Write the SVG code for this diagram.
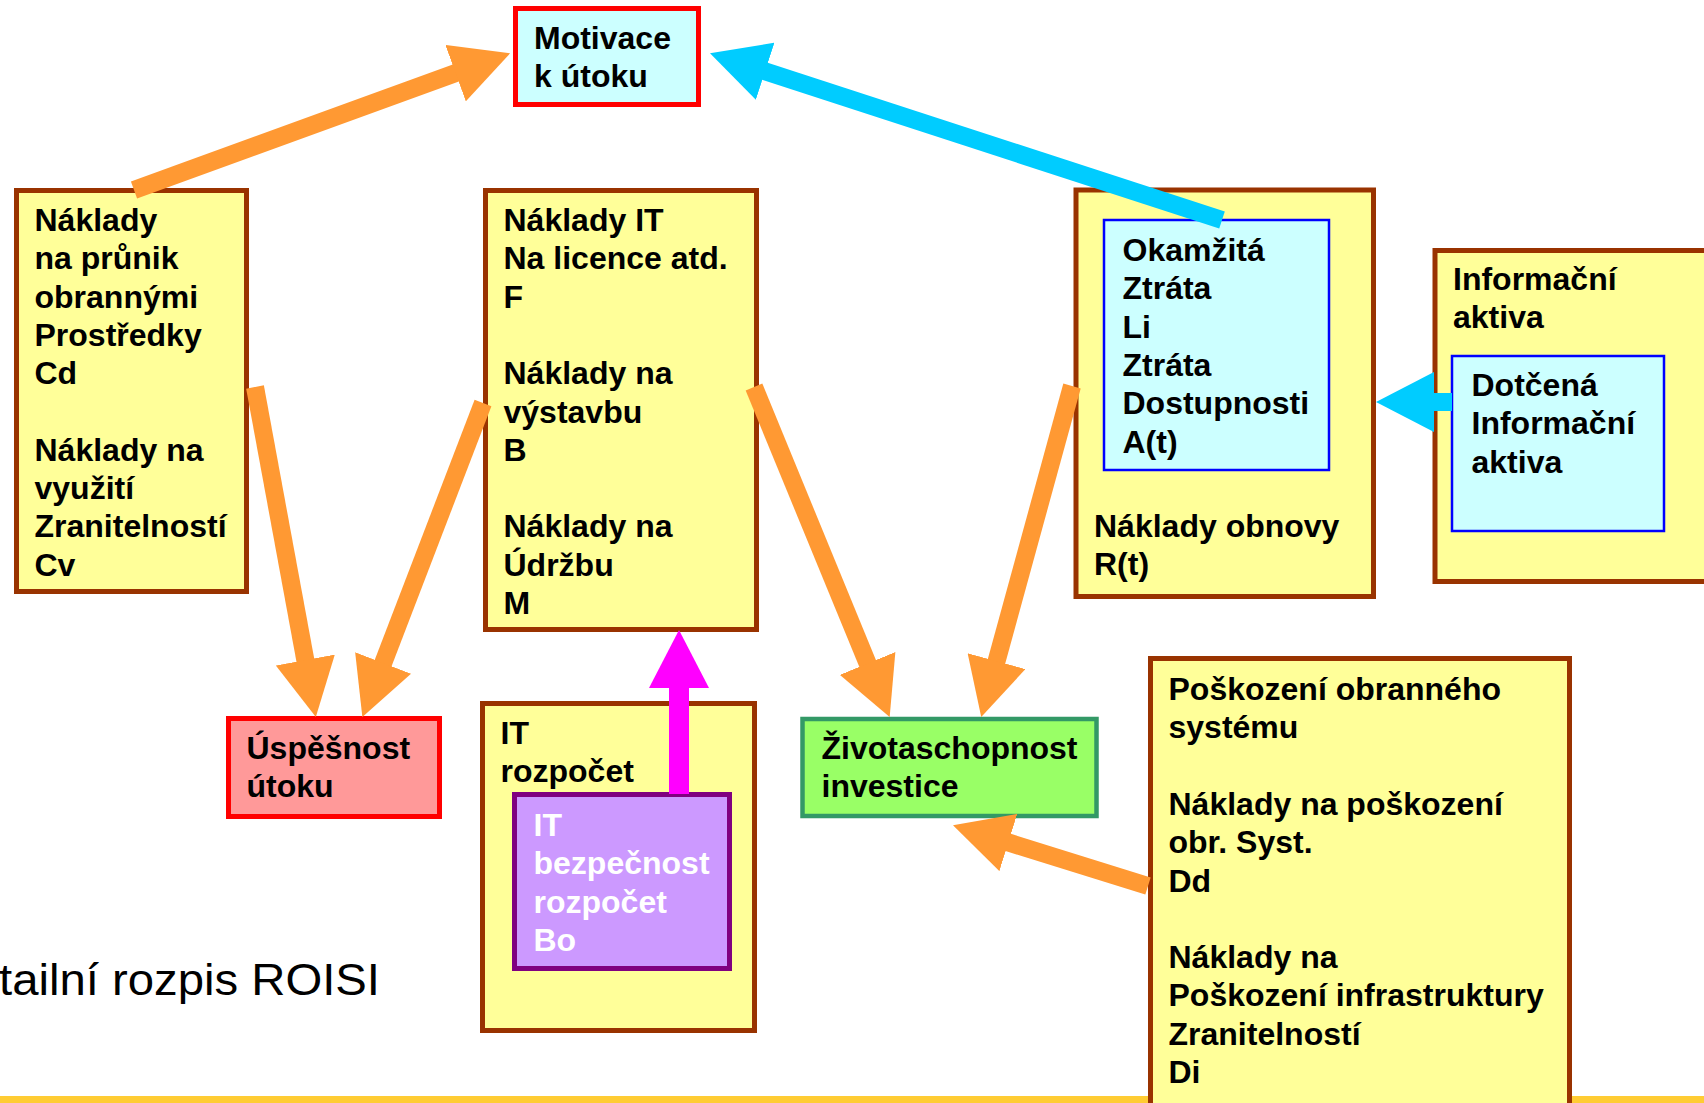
<svg xmlns="http://www.w3.org/2000/svg" width="1704" height="1103" viewBox="0 0 1704 1103">
<defs>
<style>
.t{font-family:"Liberation Sans",Arial,sans-serif;font-weight:bold;font-size:32px;fill:#000}
.w{fill:#fff}
.y{fill:#FFFF99;stroke:#993300;stroke-width:5}
.c{fill:#CCFFFF;stroke:#0000FF;stroke-width:2.5}
.ao{stroke:#FF9933;stroke-width:18;fill:none}
.ac{stroke:#00CCFF;stroke-width:18;fill:none}
.am{stroke:#FF00FF;stroke-width:20;fill:none}
</style>
<marker id="hO" viewBox="0 -30 58 60" markerWidth="58" markerHeight="60" refX="1" refY="0" orient="auto" markerUnits="userSpaceOnUse"><path d="M0,-30 L58,0 L0,30 z" fill="#FF9933"/></marker>
<marker id="hC" viewBox="0 -30 58 60" markerWidth="58" markerHeight="60" refX="1" refY="0" orient="auto" markerUnits="userSpaceOnUse"><path d="M0,-30 L58,0 L0,30 z" fill="#00CCFF"/></marker>
<marker id="hM" viewBox="0 -30 58 60" markerWidth="58" markerHeight="60" refX="1" refY="0" orient="auto" markerUnits="userSpaceOnUse"><path d="M0,-30 L58,0 L0,30 z" fill="#FF00FF"/></marker>
</defs>
<rect x="0" y="0" width="1704" height="1103" fill="#fff"/>
<rect x="0" y="1096" width="1704" height="7" fill="#FFCC33"/>
<text x="-1" y="995" font-family="Liberation Sans,Arial,sans-serif" font-size="45" textLength="381" lengthAdjust="spacingAndGlyphs" fill="#000">tailní rozpis ROISI</text>

<g id="motivace">
<rect x="515.5" y="8.5" width="183" height="96" fill="#CCFFFF" stroke="#FF0000" stroke-width="5"/>
<text class="t"><tspan x="534" y="49">Motivace</tspan><tspan x="534" y="87">k útoku</tspan></text>
</g>

<g id="naklady-prunik">
<rect class="y" x="16.5" y="190.5" width="230" height="401"/>
<text class="t"><tspan x="34.5" y="231">Náklady</tspan><tspan x="34.5" y="269.3">na průnik</tspan><tspan x="34.5" y="307.6">obrannými</tspan><tspan x="34.5" y="345.9">Prostředky</tspan><tspan x="34.5" y="384.2">Cd</tspan><tspan x="34.5" y="460.8">Náklady na</tspan><tspan x="34.5" y="499.1">využití</tspan><tspan x="34.5" y="537.4">Zranitelností</tspan><tspan x="34.5" y="575.7">Cv</tspan></text>
</g>

<g id="naklady-it">
<rect class="y" x="485.5" y="190.5" width="271" height="439"/>
<text class="t"><tspan x="503.5" y="231">Náklady IT</tspan><tspan x="503.5" y="269.3">Na licence atd.</tspan><tspan x="503.5" y="307.6">F</tspan><tspan x="503.5" y="384.2">Náklady na</tspan><tspan x="503.5" y="422.5">výstavbu</tspan><tspan x="503.5" y="460.8">B</tspan><tspan x="503.5" y="537.4">Náklady na</tspan><tspan x="503.5" y="575.7">Údržbu</tspan><tspan x="503.5" y="614">M</tspan></text>
</g>

<g id="naklady-obnovy">
<rect class="y" x="1076" y="190" width="297.5" height="406.5"/>
<text class="t"><tspan x="1094" y="537">Náklady obnovy</tspan><tspan x="1094" y="575">R(t)</tspan></text>
</g>
<g id="okamzita-ztrata">
<rect class="c" x="1104" y="220" width="225" height="250"/>
<text class="t"><tspan x="1122.5" y="261">Okamžitá</tspan><tspan x="1122.5" y="299.3">Ztráta</tspan><tspan x="1122.5" y="337.6">Li</tspan><tspan x="1122.5" y="375.9">Ztráta</tspan><tspan x="1122.5" y="414.2">Dostupnosti</tspan><tspan x="1122.5" y="452.5">A(t)</tspan></text>
</g>

<g id="informacni-aktiva">
<rect class="y" x="1435" y="250.5" width="300" height="331"/>
<text class="t"><tspan x="1453" y="290">Informační</tspan><tspan x="1453" y="328">aktiva</tspan></text>
</g>
<g id="dotcena-aktiva">
<rect class="c" x="1452" y="356" width="212" height="175"/>
<text class="t"><tspan x="1471.5" y="396">Dotčená</tspan><tspan x="1471.5" y="434">Informační</tspan><tspan x="1471.5" y="473">aktiva</tspan></text>
</g>

<g id="uspesnost">
<rect x="228.5" y="718.5" width="211" height="98" fill="#FF9999" stroke="#FF0000" stroke-width="5"/>
<text class="t"><tspan x="246.5" y="759">Úspěšnost</tspan><tspan x="246.5" y="797">útoku</tspan></text>
</g>

<g id="it-rozpocet">
<rect class="y" x="482.5" y="703.5" width="272" height="327"/>
<text class="t"><tspan x="500.5" y="744">IT</tspan><tspan x="500.5" y="782">rozpočet</tspan></text>
</g>
<g id="it-bezpecnost">
<rect x="514.5" y="794.5" width="215" height="174" fill="#CC99FF" stroke="#800080" stroke-width="5"/>
<text class="t w"><tspan x="533.5" y="836">IT</tspan><tspan x="533.5" y="874">bezpečnost</tspan><tspan x="533.5" y="913">rozpočet</tspan><tspan x="533.5" y="951">Bo</tspan></text>
</g>

<g id="zivotaschopnost">
<rect x="802.5" y="719" width="294" height="97" fill="#99FF66" stroke="#339966" stroke-width="4.5"/>
<text class="t"><tspan x="821.5" y="759">Životaschopnost</tspan><tspan x="821.5" y="797">investice</tspan></text>
</g>

<g id="poskozeni">
<rect class="y" x="1150.5" y="658.5" width="419" height="470"/>
<text class="t"><tspan x="1168.5" y="700">Poškození obranného</tspan><tspan x="1168.5" y="738.3">systému</tspan><tspan x="1168.5" y="814.9">Náklady na poškození</tspan><tspan x="1168.5" y="853.2">obr. Syst.</tspan><tspan x="1168.5" y="891.5">Dd</tspan><tspan x="1168.5" y="968.1">Náklady na</tspan><tspan x="1168.5" y="1006.4">Poškození infrastruktury</tspan><tspan x="1168.5" y="1044.7">Zranitelností</tspan><tspan x="1168.5" y="1083">Di</tspan></text>
</g>

<g id="connectors">
<line class="ao" x1="134" y1="190" x2="456.5" y2="72.8" marker-end="url(#hO)"/>
<line class="ac" x1="1222" y1="220" x2="764.2" y2="71" marker-end="url(#hC)"/>
<line class="ao" x1="255" y1="387" x2="305.5" y2="661" marker-end="url(#hO)"/>
<line class="ao" x1="483" y1="403" x2="382.8" y2="663.9" marker-end="url(#hO)"/>
<line class="ao" x1="754" y1="387" x2="868" y2="664.4" marker-end="url(#hO)"/>
<line class="ao" x1="1072" y1="386" x2="996.3" y2="662.1" marker-end="url(#hO)"/>
<line class="ao" x1="1148" y1="886" x2="1007.4" y2="842.2" marker-end="url(#hO)"/>
<line class="am" x1="679" y1="794" x2="679" y2="687" marker-end="url(#hM)"/>
<line class="ac" x1="1452" y1="402" x2="1433" y2="402" marker-end="url(#hC)"/>
</g>
</svg>
